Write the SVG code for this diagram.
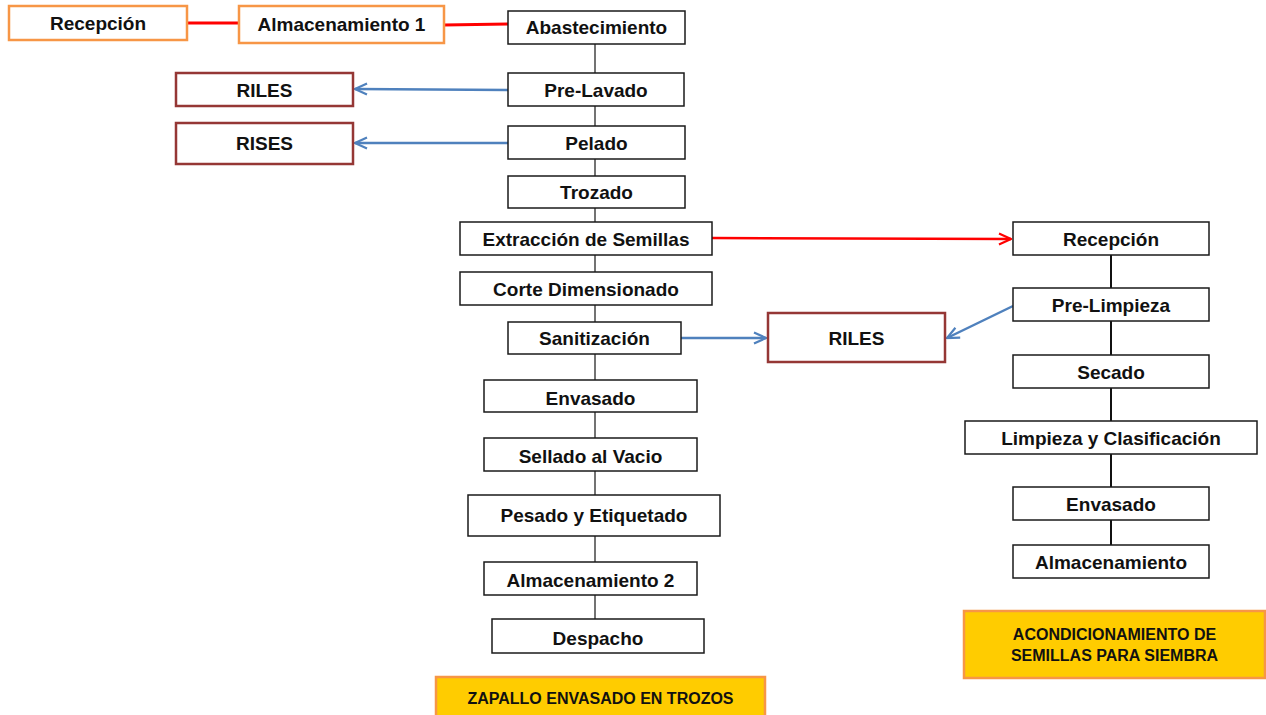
<svg xmlns="http://www.w3.org/2000/svg" width="1266" height="715" viewBox="0 0 1266 715">
<defs>
<style>
.b{fill:#fff;stroke:#1a1a1a;stroke-width:1.5}
.o{fill:#fff;stroke:#F79646;stroke-width:2.5}
.r{fill:#fff;stroke:#953735;stroke-width:2.5}
.y{fill:#FFCC00;stroke:#F79646;stroke-width:2.5}
.t{font-family:"Liberation Sans",Arial,sans-serif;font-weight:bold;font-size:19px;fill:#111;text-anchor:middle}
.s{font-family:"Liberation Sans",Arial,sans-serif;font-weight:bold;font-size:16px;fill:#111;text-anchor:middle}
.v{stroke:#444;stroke-width:1.5;fill:none}
.v2{stroke:#111;stroke-width:2;fill:none}
.red{stroke:#FF0000;stroke-width:3;fill:none}
.blue{stroke:#4F81BD;stroke-width:2.5;fill:none}
</style>
<marker id="ab" viewBox="0 0 14 14" refX="13" refY="7" markerWidth="14" markerHeight="14" markerUnits="userSpaceOnUse" orient="auto">
<path d="M1,1.5 L13,7 L1,12.5" fill="none" stroke="#4F81BD" stroke-width="2.2"/>
</marker>
<marker id="ar" viewBox="0 0 14 14" refX="13" refY="7" markerWidth="14" markerHeight="14" markerUnits="userSpaceOnUse" orient="auto">
<path d="M1,1.5 L13,7 L1,12.5" fill="none" stroke="#FF0000" stroke-width="2.2"/>
</marker>
</defs>
<rect width="1266" height="715" fill="#fff"/>
<g id="connectors">
<line class="v" x1="595" y1="44" x2="595" y2="73"/>
<line class="v" x1="595" y1="106" x2="595" y2="126"/>
<line class="v" x1="595" y1="159" x2="595" y2="176"/>
<line class="v" x1="595" y1="208" x2="595" y2="222"/>
<line class="v" x1="595" y1="255" x2="595" y2="272"/>
<line class="v" x1="595" y1="305" x2="595" y2="322"/>
<line class="v" x1="595" y1="354" x2="595" y2="380"/>
<line class="v" x1="595" y1="412" x2="595" y2="438"/>
<line class="v" x1="595" y1="471" x2="595" y2="495"/>
<line class="v" x1="595" y1="536" x2="595" y2="562"/>
<line class="v" x1="595" y1="595" x2="595" y2="619"/>
<line class="v2" x1="1111" y1="255" x2="1111" y2="288"/>
<line class="v2" x1="1111" y1="321" x2="1111" y2="355"/>
<line class="v2" x1="1111" y1="388" x2="1111" y2="421"/>
<line class="v2" x1="1111" y1="454" x2="1111" y2="487"/>
<line class="v2" x1="1111" y1="520" x2="1111" y2="545"/>
<line class="red" x1="187" y1="23" x2="239" y2="23"/>
<line class="red" x1="444" y1="25" x2="508" y2="24"/>
<line class="blue" x1="508" y1="90" x2="355" y2="89" marker-end="url(#ab)"/>
<line class="blue" x1="508" y1="143" x2="355" y2="143" marker-end="url(#ab)"/>
<line class="blue" x1="681" y1="338" x2="766" y2="338" marker-end="url(#ab)"/>
<line class="blue" x1="1013" y1="306" x2="947" y2="338" marker-end="url(#ab)"/>
<line class="red" style="stroke-width:2.5" x1="712" y1="238" x2="1011" y2="239" marker-end="url(#ar)"/>
</g>
<g id="n-recepcion1"><rect class="o" x="9" y="6" width="178" height="34"/><text class="t" x="98" y="30">Recepción</text></g>
<g id="n-almacenamiento1"><rect class="o" x="239" y="6" width="205" height="37"/><text class="t" x="341.5" y="31">Almacenamiento 1</text></g>
<g id="n-abastecimiento"><rect class="b" x="508" y="11" width="177" height="33"/><text class="t" x="596.5" y="34">Abastecimiento</text></g>
<g id="n-prelavado"><rect class="b" x="508" y="73" width="176" height="33"/><text class="t" x="596" y="96.5">Pre-Lavado</text></g>
<g id="n-pelado"><rect class="b" x="508" y="126" width="177" height="33"/><text class="t" x="596.5" y="149.5">Pelado</text></g>
<g id="n-trozado"><rect class="b" x="508" y="176" width="177" height="32"/><text class="t" x="596.5" y="198.5">Trozado</text></g>
<g id="n-extraccion"><rect class="b" x="460" y="222" width="252" height="33"/><text class="t" x="586" y="245.5">Extracción de Semillas</text></g>
<g id="n-corte"><rect class="b" x="460" y="272" width="252" height="33"/><text class="t" x="586" y="295.5">Corte Dimensionado</text></g>
<g id="n-sanitizacion"><rect class="b" x="508" y="322" width="173" height="32"/><text class="t" x="594.5" y="344.5">Sanitización</text></g>
<g id="n-envasado1"><rect class="b" x="484" y="380" width="213" height="32"/><text class="t" x="590.5" y="405">Envasado</text></g>
<g id="n-sellado"><rect class="b" x="484" y="438" width="213" height="33"/><text class="t" x="590.5" y="463">Sellado al Vacio</text></g>
<g id="n-pesado"><rect class="b" x="468" y="495" width="252" height="41"/><text class="t" x="594" y="522">Pesado y Etiquetado</text></g>
<g id="n-almacenamiento2"><rect class="b" x="484" y="562" width="213" height="33"/><text class="t" x="590.5" y="587">Almacenamiento 2</text></g>
<g id="n-despacho"><rect class="b" x="492" y="619" width="212" height="34"/><text class="t" x="598" y="645">Despacho</text></g>
<g id="n-zapallo"><rect class="y" x="436" y="677" width="329" height="42"/><text class="s" x="600.5" y="704">ZAPALLO ENVASADO EN TROZOS</text></g>
<g id="n-riles1"><rect class="r" x="176" y="73" width="177" height="33"/><text class="t" x="264.5" y="96.5">RILES</text></g>
<g id="n-rises"><rect class="r" x="176" y="123" width="177" height="41"/><text class="t" x="264.5" y="150">RISES</text></g>
<g id="n-riles2"><rect class="r" x="768" y="313" width="177" height="49"/><text class="t" x="856.5" y="344.5">RILES</text></g>
<g id="n-recepcion2"><rect class="b" x="1013" y="222" width="196" height="33"/><text class="t" x="1111" y="246">Recepción</text></g>
<g id="n-prelimpieza"><rect class="b" x="1013" y="288" width="196" height="33"/><text class="t" x="1111" y="312">Pre-Limpieza</text></g>
<g id="n-secado"><rect class="b" x="1013" y="355" width="196" height="33"/><text class="t" x="1111" y="379">Secado</text></g>
<g id="n-limpieza"><rect class="b" x="965" y="421" width="292" height="33"/><text class="t" x="1111" y="445">Limpieza y Clasificación</text></g>
<g id="n-envasado2"><rect class="b" x="1013" y="487" width="196" height="33"/><text class="t" x="1111" y="511">Envasado</text></g>
<g id="n-almacenamiento"><rect class="b" x="1013" y="545" width="196" height="33"/><text class="t" x="1111" y="569">Almacenamiento</text></g>
<g id="n-acondicionamiento"><rect class="y" x="964" y="611" width="301" height="67"/><text class="s" x="1114.5" y="640">ACONDICIONAMIENTO  DE</text><text class="s" x="1114.5" y="661">SEMILLAS PARA SIEMBRA</text></g>
</svg>
